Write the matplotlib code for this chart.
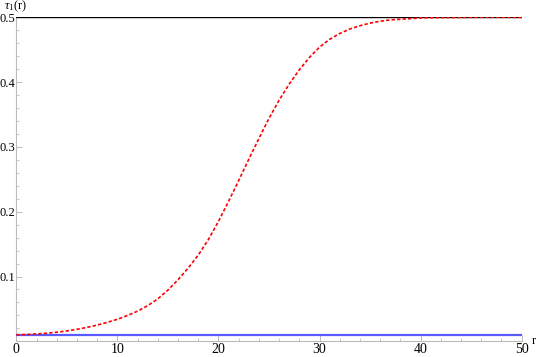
import numpy as np
import matplotlib.pyplot as plt
from matplotlib.ticker import MultipleLocator

# data
r = np.arange(0, 51)
tau_red = [0.0100, 0.0105, 0.0113, 0.0125, 0.0140, 0.0160, 0.0185, 0.0215, 0.0250, 0.0292,
           0.0340, 0.0398, 0.0465, 0.0550, 0.0655, 0.0790, 0.0950, 0.113, 0.133, 0.157,
           0.185, 0.216, 0.248, 0.281, 0.313, 0.344, 0.372, 0.397, 0.419, 0.438,
           0.454, 0.466, 0.475, 0.482, 0.487, 0.491, 0.494, 0.496, 0.497, 0.498,
           0.499, 0.4993, 0.4995, 0.4997, 0.4998, 0.4999, 0.5, 0.5, 0.5, 0.5, 0.5]
tau_blue = 0.01
tau_black = 0.5
r_min, r_max = 0, 50

plt.rcParams['font.family'] = ['Liberation Serif', 'DejaVu Serif']
plt.rcParams['mathtext.fontset'] = 'custom'
plt.rcParams['mathtext.it'] = 'Liberation Serif:italic'
plt.rcParams['mathtext.rm'] = 'Liberation Serif'

fig = plt.figure(figsize=(5.4, 3.57), dpi=100)
ax = fig.add_axes([16.3 / 540, (357 - 341.3) / 357, (521.7 - 16.3) / 540, (341.3 - 17.3) / 357])

ax.plot([r_min, r_max], [tau_black, tau_black], color='black', lw=1.0, zorder=3)
ax.plot([r_min, r_max], [tau_blue, tau_blue], color='#5a5aff', lw=1.6, zorder=3)
ax.plot(r, tau_red, color='red', lw=1.2, linestyle=(0, (2, 1.3)), zorder=4)

ax.set_xlim(0, 50)
ax.set_ylim(0, 0.5)
for s in ['top', 'right']:
    ax.spines[s].set_visible(False)
for s in ['left', 'bottom']:
    ax.spines[s].set_color('#bbbbbb')
    ax.spines[s].set_linewidth(0.8)

ax.xaxis.set_major_locator(MultipleLocator(10))
ax.xaxis.set_minor_locator(MultipleLocator(2))
ax.yaxis.set_minor_locator(MultipleLocator(0.02))
ax.set_yticks([0.1, 0.2, 0.3, 0.4, 0.5])
ax.set_yticklabels(['0.1', '0.2', '0.3', '0.4', '0.5'])
ax.tick_params(which='major', direction='in', length=4, width=0.7, color='#bbbbbb')
ax.tick_params(which='minor', direction='in', length=2, width=0.6, color='#bbbbbb')
ax.tick_params(axis='x', labelsize=10, pad=1)
ax.tick_params(axis='y', labelsize=9, pad=0.5)

fig.text(532 / 540, (357 - 341) / 357, 'r', fontsize=9, ha='left', va='center')
fig.text(4 / 540, (357 - 9.5) / 357, r'$\tau_1$(r)', fontsize=9, ha='left', va='baseline')

fig.savefig('out.png', dpi=100)
